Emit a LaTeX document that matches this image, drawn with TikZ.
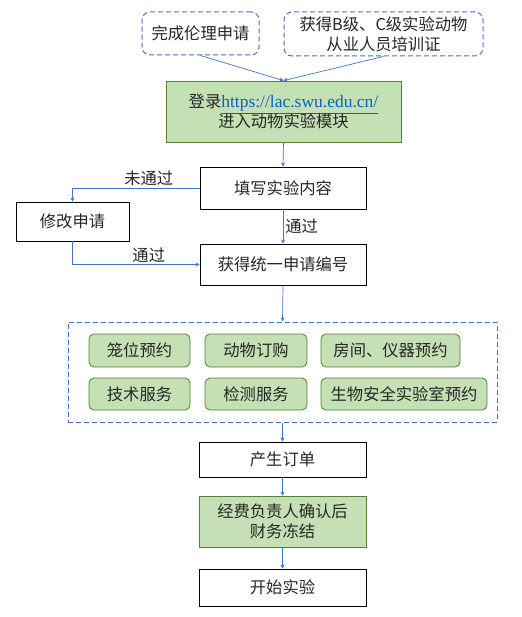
\documentclass[tikz,border=0pt]{standalone}
\usepackage{fontspec}
\setmainfont{Noto Sans CJK SC}
\newfontfamily\linkfont{Liberation Serif}
\usetikzlibrary{arrows.meta}
\definecolor{txt}{HTML}{262626}
\definecolor{lblue}{HTML}{4472C4}
\definecolor{gfill}{HTML}{C5E0B4}
\definecolor{gline}{HTML}{538135}
\definecolor{link}{HTML}{0563C1}
\tikzset{
  base/.style={font=\fontsize{16.3pt}{20pt}\selectfont, text=txt, align=center, inner sep=0pt},
  dbox/.style={base, draw=lblue, dash pattern=on 5pt off 3pt, line width=1pt, rounded corners=8pt},
  wbox/.style={base, draw=black, line width=0.8pt, fill=white},
  gbox/.style={base, draw=gline, line width=0.8pt, fill=gfill},
  gsbox/.style={base, draw=gline, line width=0.8pt, fill=gfill, rounded corners=5pt},
  conn/.style={draw=lblue, line width=0.7pt, -{Stealth[length=4pt,width=4pt]}},
  lbl/.style={font=\fontsize{16.3pt}{20pt}\selectfont, text=txt, inner sep=2pt}
}
\begin{document}
\begin{tikzpicture}[x=1pt,y=-1pt]
\useasboundingbox[fill=white] (0,0) rectangle (521,617);
\node[dbox, minimum width=117pt, minimum height=43pt] (t1) at (200.5,33.5) {完成伦理申请};
\node[dbox, minimum width=199pt, minimum height=44pt] (t2) at (383.5,34) {获得B级、C级实验动物\\从业人员培训证};
\node[gbox, minimum width=235pt, minimum height=61pt] (login) at (283.5,111.5) {登录{\linkfont\fontsize{17.5pt}{20pt}\selectfont\color{link}\underline{https://lac.swu.edu.cn/}}\\进入动物实验模块};
\node[wbox, minimum width=166pt, minimum height=42pt] (fill) at (283,188) {填写实验内容};
\node[wbox, minimum width=113pt, minimum height=39pt] (mod) at (72.5,221.5) {修改申请};
\node[wbox, minimum width=166pt, minimum height=41pt] (num) at (283,264.5) {获得统一申请编号};
\node[dbox, rounded corners=0pt, minimum width=429pt, minimum height=100pt] (grp) at (282.5,372) {};
\node[gsbox, minimum width=101pt, minimum height=33pt] (g1) at (139.5,350.5) {笼位预约};
\node[gsbox, minimum width=102pt, minimum height=33pt] (g2) at (256,350.5) {动物订购};
\node[gsbox, minimum width=139pt, minimum height=33pt] (g3) at (390.5,350.5) {房间、仪器预约};
\node[gsbox, minimum width=101pt, minimum height=32pt] (g4) at (139.5,394) {技术服务};
\node[gsbox, minimum width=102pt, minimum height=32pt] (g5) at (256,394) {检测服务};
\node[gsbox, minimum width=166pt, minimum height=32pt] (g6) at (404,394) {生物安全实验室预约};
\node[wbox, minimum width=167pt, minimum height=35pt] (order) at (282.5,459.5) {产生订单};
\node[gbox, minimum width=167pt, minimum height=51pt] (fund) at (282.5,521.5) {经费负责人确认后\\财务冻结};
\node[wbox, minimum width=167pt, minimum height=37pt] (start) at (282.5,587.5) {开始实验};
\draw[conn] (t1.south) -- (login.north);
\draw[conn] (t2.south) -- (login.north);
\draw[conn] (login.south) -- (fill.north);
\draw[conn] (fill.west) -| node[lbl, above, pos=0.2] (l1) {未通过} (mod.north);
\draw[conn] (fill.south) -- node[lbl, right] (l2) {通过} (num.north);
\draw[conn] (mod.south) |- node[lbl, above, pos=0.8] (l3) {通过} (num.west);
\draw[conn] (num.south) -- (grp.north);
\draw[conn] (grp.south) -- (order.north);
\draw[conn] (order.south) -- (fund.north);
\draw[conn] (fund.south) -- (start.north);
\end{tikzpicture}
\end{document}
